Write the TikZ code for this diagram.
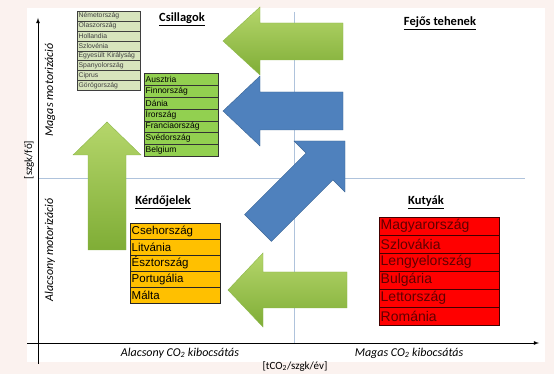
\documentclass[tikz,border=0pt]{standalone}
\usepackage{fontspec}
\setmainfont{Liberation Sans}
\newfontfamily\calibri{Carlito}
\usetikzlibrary{positioning}

\definecolor{bgpink}{HTML}{FBF2EF}
\definecolor{divblue}{HTML}{AFC3DC}
\definecolor{palegreen}{HTML}{D7E4BD}
\definecolor{limegreen}{HTML}{92D050}
\definecolor{amber}{HTML}{FFC000}
\definecolor{tablegrey}{HTML}{3F3F3F}
\definecolor{darkred}{HTML}{600000}
\definecolor{greenlight}{HTML}{B5D66B}
\definecolor{greendark}{HTML}{7FAD36}
\definecolor{greenedge}{HTML}{8CB74A}
\definecolor{arrowblue}{HTML}{4F81BD}
\definecolor{arrowblueedge}{HTML}{3A6494}

\begin{document}
\begin{tikzpicture}[x=1pt, y=-1pt,
  heading/.style={font=\calibri\bfseries\fontsize{12.5}{14}\selectfont},
  axislabel/.style={font=\calibri\itshape\fontsize{12}{14}\selectfont},
  unitlabel/.style={font=\calibri\fontsize{11}{13}\selectfont},
  row/.style={draw, anchor=north west, inner xsep=1.5pt, inner ysep=0pt, align=left},
  greenarrow/.style={draw=greenedge, top color=greenlight, bottom color=greendark},
  bluearrow/.style={draw=arrowblueedge, fill=arrowblue}]

  % Background and panel
  \fill[bgpink] (0,0) rectangle (554,374);
  \fill[white] (27,8) rectangle (545,362);

  % Quadrant dividers
  \draw[divblue, line width=0.9pt] (38,178) -- (525,178);
  \draw[divblue, line width=0.9pt] (294,12) -- (294,343);

  % Axes
  \coordinate (yfoot) at (38,364);
  \coordinate (ytop) at (38,18);
  \coordinate (xstart) at (27,343);
  \coordinate (xend) at (539,343);
  \draw[thick, -latex] (yfoot) -- (ytop);
  \draw[thick, -latex] (xstart) -- (xend);

  % Arrows
  \draw[greenarrow] (343,23) -- (260,23) -- (260,7) -- (223,41) -- (260,75) -- (260,60) -- (343,60) -- cycle;
  \draw[bluearrow] (343,92) -- (260,92) -- (260,76) -- (223,111) -- (260,146) -- (260,130) -- (343,130) -- cycle;
  \draw[greenarrow] (347,272) -- (263,272) -- (263,253) -- (228,290) -- (263,327) -- (263,308) -- (347,308) -- cycle;
  \draw[greenarrow] (88,250) -- (88,155) -- (73,155) -- (107,122) -- (141,155) -- (126,155) -- (126,250) -- cycle;
  \draw[bluearrow] (244.6,214.6) -- (306.1,153.1) -- (294,141) -- (345,141) -- (345,192) -- (332.9,179.9) -- (271.4,241.4) -- cycle;

  % Csillagok
  \foreach \land [count=\i from 0] in {Németország, Olaszország, Hollandia, Szlovénia, Egyesült Királyság, Spanyolország, Ciprus, Görögország}
    \node[row, fill=palegreen, draw=tablegrey, text=tablegrey, text width=60pt, minimum height=9.9pt,
          font=\fontsize{6.8}{7.5}\selectfont] (star\i) at (77,{11+9.9*\i}) {\land};
  \foreach \land [count=\i from 0] in {Ausztria, Finnország, Dánia, Írország, Franciaország, Svédország, Belgium}
    \node[row, fill=limegreen, draw=black!80, text width=71pt, minimum height=11.9pt,
          font=\fontsize{8.5}{9.5}\selectfont] (lime\i) at (144,{73+11.9*\i}) {\land};
  \node[heading] (csillagok) at (182,19) {\underline{Csillagok}};

  % Kérdőjelek
  \foreach \land [count=\i from 0] in {Csehország, Litvánia, Észtország, Portugália, Málta}
    \node[row, fill=amber, draw=black!85, text width=87pt, minimum height=16pt,
          font=\fontsize{11.5}{12.5}\selectfont] (quest\i) at (130,{223+16*\i}) {\land};
  \node[heading] (kerdojelek) at (163,202) {\underline{Kérdőjelek}};

  % Kutyák
  \foreach \land [count=\i from 0] in {Magyarország, Szlovákia, Lengyelország, Bulgária, Lettország, Románia}
    \node[row, fill=red, draw=darkred!70!black, text=darkred, text width=117pt, minimum height=18pt,
          font=\fontsize{14}{15}\selectfont] (dog\i) at (379,{217+18*\i}) {\land};
  \node[heading] (kutyak) at (426,202) {\underline{Kutyák}};

  % Fejős tehenek
  \node[heading] (fejos) at (440,23) {\underline{Fejős tehenek}};

  % Axis labels
  \node[axislabel, rotate=90] (magasmot) at (50,90) {Magas motorizáció};
  \node[axislabel, rotate=90] (alacsonymot) at (50,250) {Alacsony motorizáció};
  \node[unitlabel, rotate=90] (szgk) at (29,160) {[szgk/fő]};
  \node[axislabel] (alacsonyco) at (180,353) {Alacsony CO\textsubscript{2} kibocsátás};
  \node[axislabel] (magasco) at (409,353) {Magas CO\textsubscript{2} kibocsátás};
  \node[unitlabel] (egyseg) at (295,366) {[tCO\textsubscript{2}/szgk/év]};
\end{tikzpicture}
\end{document}
